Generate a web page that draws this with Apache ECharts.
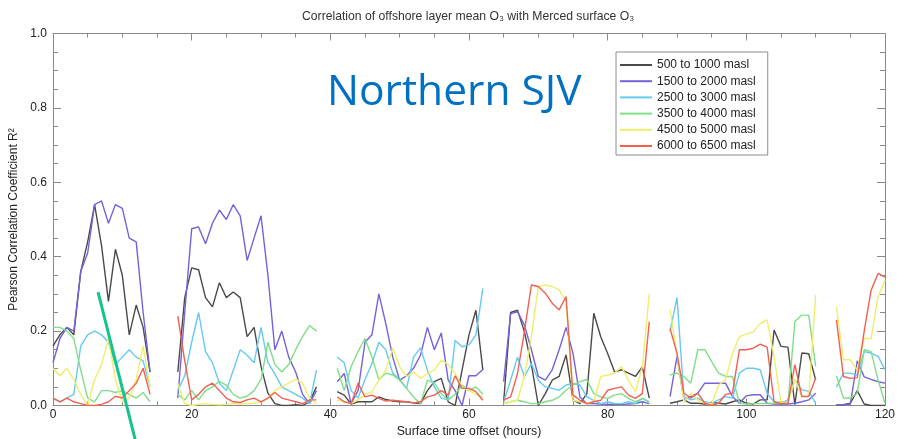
<!DOCTYPE html>
<html>
<head>
<meta charset="utf-8">
<script src="https://cdn.jsdelivr.net/npm/echarts@6/dist/echarts.min.js"></script>
<style>
  html, body { margin: 0; padding: 0; background: #fff; }
  #chart { width: 897px; height: 439px; }
</style>
</head>
<body>
<div id="chart"></div>
<script>
// Surface time offset in hours (0..120); null values mark the gaps between runs
const hours = Array.from({ length: 121 }, (_, i) => i);

const layerNames = [
  '500 to 1000 masl', '1500 to 2000 masl', '2500 to 3000 masl',
  '3500 to 4000 masl', '4500 to 5000 masl', '6000 to 6500 masl'
];
const layerColors = ['#4a4a4a', '#7561d9', '#66c9f2', '#7fdf86', '#eeee6c', '#f2604f'];

const xTicks = [0, 20, 40, 60, 80, 100, 120];
const yTicks = [0.0, 0.2, 0.4, 0.6, 0.8, 1.0];

const N = null;
// R² per layer, hour by hour
const r2_500 = [
  0.16, 0.19, 0.21, 0.19, 0.36, 0.44, 0.54, 0.43, 0.28, 0.42, 0.35, 0.19, 0.27, 0.21, 0.09,
  N, N, N,
  0.09, 0.29, 0.37, 0.365, 0.29, 0.265, 0.33, 0.29, 0.305, 0.29, 0.185, 0.21, 0.105, 0.033, 0.005, 0.0, 0.0, 0.002, 0.0, 0.01, 0.05,
  N, N,
  0.037, 0.028, 0.004, 0.01, 0.01, 0.01, 0.023, 0.016, 0.012, 0.01, 0.01, 0.007, 0.005, 0.04, 0.064, 0.073, 0.01, 0.0, 0.095, 0.19, 0.256, 0.095,
  N, N,
  0.01, 0.25, 0.256, 0.198, 0.11, 0.0, 0.032, 0.068, 0.078, 0.136, 0.015, 0.005, 0.032, 0.248, 0.185, 0.14, 0.09, 0.096, 0.087, 0.078, 0.104, 0.02,
  N, N,
  0.006, 0.01, 0.015, 0.006, 0.006, 0.004, 0.008, 0.006, 0.004, 0.01, 0.015, 0.006, 0.004, 0.015, 0.015, 0.203, 0.159, 0.157, 0.002, 0.141, 0.139, 0.069,
  N, N,
  0.002, 0.002, 0.006, 0.04, 0.004, 0.0, 0.0, 0.0
];
const r2_1500 = [
  0.115, 0.18, 0.21, 0.20, 0.36, 0.41, 0.54, 0.55, 0.49, 0.54, 0.53, 0.45, 0.44, 0.25, 0.09,
  N, N, N,
  0.02, 0.25, 0.475, 0.48, 0.435, 0.49, 0.525, 0.50, 0.54, 0.51, 0.39, 0.45, 0.51, 0.35, 0.15, 0.20, 0.13, 0.09, 0.03, 0.005, 0.04,
  N, N,
  0.064, 0.086, 0.005, 0.04, 0.17, 0.19, 0.30, 0.22, 0.13, 0.068, 0.08, 0.10, 0.135, 0.21, 0.15, 0.195, 0.068, 0.04, 0.0, 0.08, 0.08, 0.097,
  N, N,
  0.064, 0.247, 0.252, 0.216, 0.15, 0.078, 0.068, 0.096, 0.15, 0.21, 0.14, 0.023, 0.005, 0.005, 0.004, 0.003, 0.004, 0.003, 0.004, 0.005, 0.01, 0.005,
  N, N,
  0.024, 0.132, 0.015, 0.024, 0.033, 0.06, 0.06, 0.06, 0.06, 0.024, 0.006, 0.026, 0.029, 0.029, 0.006, 0.004, 0.004, 0.004, 0.006, 0.01, 0.015, 0.033,
  N, N,
  0.002, 0.002, 0.004, 0.12, 0.077, 0.07, 0.064, 0.06
];
const r2_2500 = [
  0.02, 0.01, 0.02, 0.03, 0.16, 0.19, 0.20, 0.19, 0.17, 0.11, 0.13, 0.15, 0.13, 0.12, 0.05,
  N, N, N,
  0.04, 0.08, 0.17, 0.25, 0.145, 0.115, 0.06, 0.04, 0.095, 0.15, 0.135, 0.115, 0.21, 0.115, 0.085, 0.05, 0.04, 0.03, 0.02, 0.005, 0.095,
  N, N,
  0.13, 0.115, 0.04, 0.02, 0.07, 0.113, 0.17, 0.15, 0.087, 0.07, 0.046, 0.13, 0.155, 0.095, 0.05, 0.02, 0.015, 0.175, 0.158, 0.163, 0.19, 0.315,
  N, N,
  0.01, 0.068, 0.13, 0.078, 0.113, 0.068, 0.05, 0.046, 0.041, 0.055, 0.059, 0.055, 0.023, 0.014, 0.005, 0.01, 0.005, 0.005, 0.01, 0.005, 0.019, 0.01,
  N, N,
  0.20, 0.29, 0.024, 0.015, 0.02, 0.01, 0.006, 0.015, 0.024, 0.02, 0.087, 0.10, 0.10, 0.096, 0.033, 0.01, 0.006, 0.015, 0.069, 0.042, 0.038, 0.006,
  N, N,
  0.05, 0.087, 0.087, 0.082, 0.145, 0.141, 0.132, 0.096
];
const r2_3500 = [
  0.21, 0.21, 0.20, 0.18, 0.095, 0.02, 0.01, 0.04, 0.04, 0.035, 0.04, 0.03, 0.02, 0.035, 0.01,
  N, N, N,
  0.03, 0.015, 0.04, 0.015, 0.04, 0.05, 0.065, 0.055, 0.03, 0.02, 0.025, 0.04, 0.07, 0.17, 0.11, 0.09, 0.11, 0.15, 0.185, 0.215, 0.20,
  N, N,
  0.10, 0.04, 0.105, 0.145, 0.18, 0.13, 0.069, 0.087, 0.082, 0.068, 0.046, 0.023, 0.005, 0.068, 0.06, 0.032, 0.015, 0.03, 0.055, 0.04, 0.05, 0.03,
  N, N,
  0.005, 0.01, 0.014, 0.01, 0.005, 0.005, 0.01, 0.014, 0.023, 0.041, 0.055, 0.064, 0.07, 0.032, 0.023, 0.019, 0.028, 0.032, 0.019, 0.01, 0.019, 0.01,
  N, N,
  0.082, 0.087, 0.078, 0.06, 0.15, 0.15, 0.118, 0.087, 0.078, 0.078, 0.006, 0.004, 0.005, 0.005, 0.005, 0.006, 0.01, 0.006, 0.226, 0.243, 0.243, 0.105,
  N, N,
  0.08, 0.02, 0.02, 0.033, 0.15, 0.145, 0.069, 0.006
];
const r2_4500 = [
  0.10, 0.08, 0.10, 0.07, 0.03, 0.0, 0.07, 0.11, 0.18, 0.07, 0.01, 0.02, 0.07, 0.16, 0.05,
  N, N, N,
  0.06, 0.005, 0.0, 0.003, 0.005, 0.003, 0.002, 0.003, 0.005, 0.004, 0.005, 0.006, 0.01, 0.02, 0.04, 0.05, 0.06, 0.07, 0.06, 0.02, 0.005,
  N, N,
  0.015, 0.01, 0.005, 0.015, 0.03, 0.037, 0.068, 0.095, 0.155, 0.104, 0.078, 0.09, 0.073, 0.086, 0.095, 0.122, 0.11, 0.086, 0.05, 0.04, 0.03, 0.023,
  N, N,
  0.005, 0.01, 0.014, 0.078, 0.185, 0.32, 0.324, 0.32, 0.311, 0.28, 0.014, 0.01, 0.005, 0.01, 0.078, 0.082, 0.087, 0.104, 0.068, 0.037, 0.104, 0.30,
  N, N,
  0.257, 0.136, 0.01, 0.033, 0.015, 0.006, 0.004, 0.055, 0.069, 0.14, 0.185, 0.192, 0.198, 0.22, 0.23, 0.132, 0.006, 0.008, 0.069, 0.024, 0.024, 0.297,
  N, N,
  0.266, 0.123, 0.123, 0.096, 0.18, 0.18, 0.293, 0.337
];
const r2_6000 = [
  0.02, 0.01, 0.02, 0.01, 0.005, 0.0, 0.0, 0.003, 0.01, 0.025, 0.02, 0.04, 0.06, 0.10, 0.03,
  N, N, N,
  0.24, 0.12, 0.015, 0.03, 0.05, 0.06, 0.04, 0.02, 0.01, 0.008, 0.015, 0.02, 0.01, 0.02, 0.035, 0.02, 0.015, 0.01, 0.005, 0.015, 0.015,
  N, N,
  0.023, 0.01, 0.005, 0.06, 0.023, 0.028, 0.019, 0.012, 0.014, 0.012, 0.01, 0.007, 0.01, 0.023, 0.028, 0.04, 0.028, 0.08, 0.046, 0.046, 0.037, 0.014,
  N, N,
  0.015, 0.023, 0.086, 0.20, 0.324, 0.32, 0.302, 0.275, 0.257, 0.293, 0.028, 0.014, 0.005, 0.01, 0.014, 0.041, 0.046, 0.05, 0.028, 0.019, 0.032, 0.225,
  N, N,
  0.207, 0.14, 0.033, 0.02, 0.033, 0.006, 0.0, 0.006, 0.03, 0.033, 0.15, 0.15, 0.154, 0.165, 0.157, 0.01, 0.005, 0.006, 0.11, 0.024, 0.024, 0.073,
  N, N,
  0.23, 0.078, 0.073, 0.075, 0.20, 0.31, 0.355, 0.345
];

const layerValues = [r2_500, r2_1500, r2_2500, r2_3500, r2_4500, r2_6000];

const FONT = '"Liberation Sans", Arial, sans-serif';
const axisGray = '#8a8a8a';

const chart = echarts.init(document.getElementById('chart'), null, { renderer: 'canvas' });

const baseX = {
  type: 'value', min: 0, max: 120, interval: 20,
  axisLine: { show: true, onZero: false, lineStyle: { color: axisGray, width: 1 } },
  axisTick: { show: true, inside: true, length: 7, lineStyle: { color: axisGray } },
  minorTick: { show: true, splitNumber: 4, length: 4, lineStyle: { color: axisGray } },
  splitLine: { show: false }
};
const baseY = {
  type: 'value', min: 0, max: 1, interval: 0.2,
  axisLine: { show: true, onZero: false, lineStyle: { color: axisGray, width: 1 } },
  axisTick: { show: true, inside: true, length: 8, lineStyle: { color: axisGray } },
  minorTick: { show: true, splitNumber: 4, length: 5, lineStyle: { color: axisGray } },
  splitLine: { show: false }
};

const option = {
  animation: false,
  backgroundColor: '#ffffff',
  textStyle: { fontFamily: FONT },
  grid: { left: 53, right: 12, top: 33.5, bottom: 33.5, containLabel: false, outerBoundsMode: 'none' },
  title: {
    text: 'Correlation of offshore layer mean O\u2083 with Merced surface O\u2083',
    left: 297, top: 6,
    textStyle: { fontFamily: FONT, fontSize: 12.2, fontWeight: 'normal', color: '#333' }
  },
  legend: {
    orient: 'vertical',
    left: 616, top: 52,
    padding: [6, 12, 2, 4],
    itemGap: 2.2,
    itemWidth: 32, itemHeight: 2,
    icon: 'rect',
    borderColor: '#8c8c8c', borderWidth: 1,
    backgroundColor: '#ffffff',
    textStyle: { fontFamily: FONT, fontSize: 12, color: '#222', lineHeight: 14 },
    data: layerNames
  },
  xAxis: [
    Object.assign({}, baseX, {
      position: 'bottom',
      name: 'Surface time offset (hours)',
      nameLocation: 'middle', nameGap: 16,
      nameTextStyle: { fontFamily: FONT, fontSize: 12.3, color: '#222' },
      axisLabel: {
        show: true, margin: 3.5, fontFamily: FONT, fontSize: 12, color: '#222',
        formatter: v => (xTicks.includes(v) ? String(v) : '')
      }
    }),
    Object.assign({}, baseX, { position: 'top', axisLabel: { show: false } })
  ],
  yAxis: [
    Object.assign({}, baseY, {
      position: 'left',
      name: 'Pearson Correlation Coefficient R\u00B2',
      nameLocation: 'middle', nameGap: 31,
      nameTextStyle: { fontFamily: FONT, fontSize: 12, color: '#222' },
      axisLabel: {
        show: true, margin: 6, fontFamily: FONT, fontSize: 12, color: '#222',
        formatter: v => (yTicks.some(t => Math.abs(t - v) < 1e-9) ? v.toFixed(1) : '')
      }
    }),
    Object.assign({}, baseY, { position: 'right', axisLabel: { show: false } })
  ],
  series: layerNames.map((name, i) => ({
    name: name,
    type: 'line',
    xAxisIndex: 0, yAxisIndex: 0,
    showSymbol: false,
    symbol: 'none',
    connectNulls: false,
    clip: true,
    color: layerColors[i],
    lineStyle: { color: layerColors[i], width: 1.4 },
    data: hours.map((h, k) => [h, layerValues[i][k]])
  })),
  graphic: [
    {
      type: 'text',
      left: 327, top: 71,
      style: {
        text: 'Northern SJV',
        font: '42.5px "Open Sans", "Noto Sans", sans-serif',
        fill: '#0070c0'
      },
      z: 50
    }
  ]
};

chart.setOption(option);

// Pointer stroke drawn in data space, running below the axis
const pTop = chart.convertToPixel({ xAxisIndex: 0, yAxisIndex: 0 }, [6.5, 0.305]);
const pBot = chart.convertToPixel({ xAxisIndex: 0, yAxisIndex: 0 }, [11.9, -0.095]);
chart.setOption({
  graphic: [
    option.graphic[0],
    {
      type: 'line',
      shape: { x1: pTop[0], y1: pTop[1], x2: pBot[0], y2: pBot[1] },
      style: { stroke: '#14c38e', lineWidth: 3 },
      z: 60
    }
  ]
});
</script>
</body>
</html>
